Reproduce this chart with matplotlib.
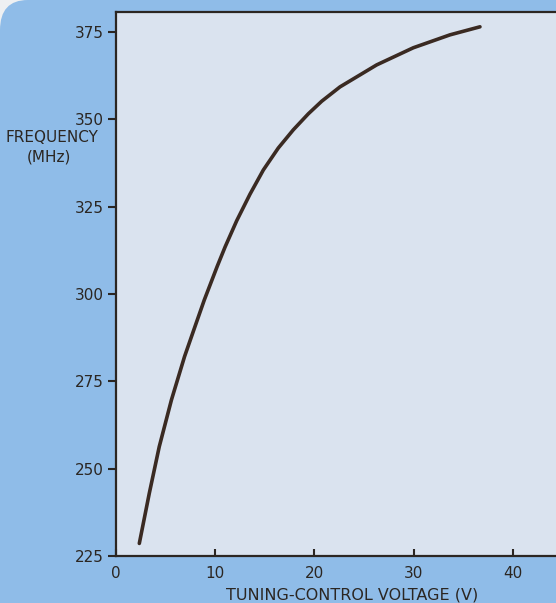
#!/usr/bin/env python3
import matplotlib
matplotlib.use("Agg")
import matplotlib.pyplot as plt
from matplotlib.patches import FancyBboxPatch

# -----------------------------
# data
# -----------------------------
voltage = [2.35, 3.36, 4.36, 5.59, 6.91, 8.0, 8.9, 10.2, 11.0, 12.17, 13.51, 14.85,
           16.36, 17.87, 19.39, 20.74, 22.58, 26.28, 29.97, 33.67, 36.69]
freq_mhz = [228.6, 243.0, 256.3, 269.7, 282.1, 291.0, 298.3, 307.9, 313.5, 321.0,
            328.6, 335.5, 341.8, 347.0, 351.6, 355.2, 359.3, 365.6, 370.5, 374.2, 376.5]

x_ticks = [0, 10, 20, 30, 40]
x_ticklabels = ["0", "10", "20", "30", "40"]
y_ticks = [225, 250, 275, 300, 325, 350, 375]
y_ticklabels = ["225", "250", "275", "300", "325", "350", "375"]

W, H, DPI = 556, 603, 100
BLUE = "#8fbce8"
PANEL = "#dae3ef"
INK = "#2b2622"
CURVE = "#3a2a22"


def px(x, y):
    """pixel (from top-left) -> figure fraction"""
    return x / W, 1 - y / H


fig = plt.figure(figsize=(W / DPI, H / DPI), dpi=DPI, facecolor="#eef0f2")

# blue page with rounded top-left corner
bg = FancyBboxPatch((0.0, -0.2), 1.3, 1.2, boxstyle="round,pad=0,rounding_size=0.05",
                    transform=fig.transFigure, facecolor=BLUE, edgecolor="none", zorder=-5)
fig.patches.append(bg)

# axes: left spine at x=116, bottom at y=556, top at y=11.7, runs off the right edge
l, b = px(116, 556)
_, t = px(116, 11.7)
ax = fig.add_axes([l, b, 1.0 - l, t - b])
ax.set_facecolor(PANEL)

ax.plot(voltage, freq_mhz, color=CURVE, lw=2.6, solid_capstyle="round", solid_joinstyle="round")

ax.set_xlim(0, (556 - 116) / 99.2 * 10)
ax.set_ylim(225, 225 + (556 - 11.7) / 3.493)

ax.set_xticks(x_ticks)
ax.set_xticklabels(x_ticklabels)
ax.set_yticks(y_ticks)
ax.set_yticklabels(y_ticklabels)

ax.tick_params(axis="x", direction="in", length=5, width=1.5, color=INK, pad=7,
               labelsize=11, labelcolor=INK)
ax.tick_params(axis="y", direction="out", length=5.5, width=1.5, color=INK, pad=3,
               labelsize=11, labelcolor=INK)

for side in ["left", "bottom", "top"]:
    ax.spines[side].set_color(INK)
    ax.spines[side].set_linewidth(1.6)
ax.spines["right"].set_visible(False)

ax.set_xlabel("TUNING-CONTROL VOLTAGE (V)", fontsize=11.5, color=INK, va="center")
ax.xaxis.set_label_coords((352 - 116) / (556 - 116), -(595 - 556) / (556 - 11.7))

# y label is horizontal, left of the axis
fx, fy = px(52, 137)
fig.text(fx, fy, "FREQUENCY", ha="center", va="center", fontsize=11, color=INK)
fx, fy = px(49, 157)
fig.text(fx, fy, "(MHz)", ha="center", va="center", fontsize=11, color=INK)

fig.savefig("out.png", dpi=DPI, facecolor=fig.get_facecolor())
